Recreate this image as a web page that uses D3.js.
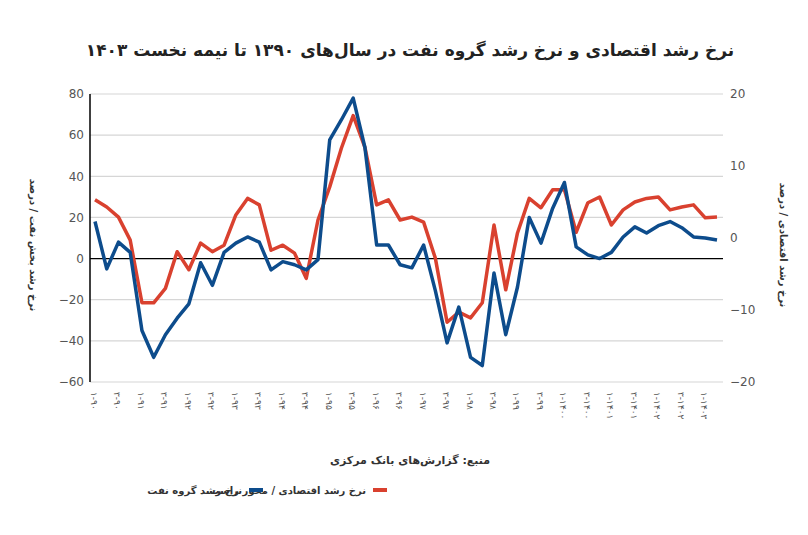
<!DOCTYPE html>
<html>
<head>
<meta charset="utf-8">
<script src="https://cdn.jsdelivr.net/npm/d3@7"></script>
<style>
body { margin: 0; background: #fff; }
text { font-family: "DejaVu Sans", sans-serif; }
</style>
</head>
<body>
<script>
// quarterly series, 1390 Q1 .. 1403 Q2
const oilGrowth = [18, -5, 8, 3, -35, -48, -37, -29, -22, -2, -13, 3, 7.5, 10.5, 8, -5.5, -1.5, -3, -5.5, -0.5,
  57.7, 67.5, 78, 54, 6.6, 6.6, -3, -4.5, 6.6, -15.6, -41, -23.6, -48, -52, -7, -37, -13.8, 20, 7.5, 24.5,
  37, 5.7, 1.8, 0, 3, 10.5, 15.4, 12.4, 16, 18, 15, 10.5, 10, 9];
const gdpGrowth = [5.3, 4.3, 2.9, -0.3, -9, -9, -7, -1.9, -4.4, -0.7, -1.9, -1, 3.2, 5.5, 4.6, -1.7, -1, -2.1, -5.6, 2.5,
  7.1, 12.5, 17, 12.6, 4.6, 5.3, 2.5, 2.9, 2.2, -2.8, -11.7, -10.3, -11.1, -9, 1.8, -7.2, 0.7, 5.5, 4.2, 6.7,
  6.7, 0.8, 4.9, 5.7, 1.8, 3.9, 5, 5.5, 5.7, 3.9, 4.3, 4.6, 2.8, 2.9];
const leftTicks = [80, 60, 40, 20, 0, -20, -40, -60];
const rightTicks = [20, 10, 0, -10, -20];

const fa = s => String(s).replace(/\d/g, d => "۰۱۲۳۴۵۶۷۸۹"[d]);
const quarters = oilGrowth.map((d, i) => {
  const y = 1390 + Math.floor(i / 4), q = i % 4 + 1;
  return fa(q) + "-" + fa(y < 1400 ? y - 1300 : y);
});

const width = 808, height = 535;
const x0 = 95, x1 = 717, plotTop = 94, plotBottom = 382;

const svg = d3.select("body").append("svg").attr("width", width).attr("height", height);

const x = d3.scaleLinear().domain([0, oilGrowth.length - 1]).range([x0, x1]);
const yL = d3.scaleLinear().domain([-60, 80]).range([plotBottom, plotTop]);
const yR = d3.scaleLinear().domain([-20, 20]).range([plotBottom, plotTop]);

// gridlines
svg.append("g").selectAll("line").data(leftTicks).enter().append("line")
  .attr("x1", 90).attr("x2", 723)
  .attr("y1", d => yL(d)).attr("y2", d => yL(d))
  .attr("stroke", d => d === 0 ? "#000" : "#d6d6d6")
  .attr("stroke-width", d => d === 0 ? 1.3 : 1.2);

svg.append("line").attr("x1", 90).attr("x2", 90).attr("y1", plotTop).attr("y2", plotBottom)
  .attr("stroke", "#000").attr("stroke-width", 1.5);

// axes
const axL = svg.append("g").attr("transform", "translate(84,0)")
  .call(d3.axisLeft(yL).tickValues(leftTicks).tickSize(0).tickPadding(0));
const axR = svg.append("g").attr("transform", "translate(730,0)")
  .call(d3.axisRight(yR).tickValues(rightTicks).tickSize(0).tickPadding(0));
[axL, axR].forEach(a => {
  a.select(".domain").remove();
  a.selectAll("text").attr("fill", "#555").attr("font-size", 12).attr("font-family", "Roboto, sans-serif");
});

// x labels
svg.append("g").selectAll("text").data(quarters.filter((d, i) => i % 2 === 0)).enter().append("text")
  .attr("transform", (d, i) => `translate(${x(i * 2) - 4},392) rotate(90)`)
  .attr("font-size", 9).attr("fill", "#555").attr("text-anchor", "start")
  .style("direction", "ltr")
  .text(d => d);

// lines
const lineL = d3.line().x((d, i) => x(i)).y(d => yL(d));
const lineR = d3.line().x((d, i) => x(i)).y(d => yR(d));
svg.append("path").datum(gdpGrowth).attr("d", lineR).attr("fill", "none")
  .attr("stroke", "#d9412f").attr("stroke-width", 3.5).attr("stroke-linejoin", "round");
svg.append("path").datum(oilGrowth).attr("d", lineL).attr("fill", "none")
  .attr("stroke", "#0d4c8c").attr("stroke-width", 3.5).attr("stroke-linejoin", "round");

// titles
svg.append("text").attr("x", 410).attr("y", 56).attr("text-anchor", "middle")
  .attr("font-size", 17).attr("font-weight", "bold").attr("fill", "#222").attr("direction", "rtl")
  .text("نرخ رشد اقتصادی و نرخ رشد گروه نفت در سال‌های ۱۳۹۰ تا نیمه نخست ۱۴۰۳");
svg.append("text").attr("transform", "translate(30,245) rotate(90)").attr("text-anchor", "middle")
  .attr("font-size", 10).attr("font-weight", "bold").attr("fill", "#333").attr("direction", "rtl")
  .text("نرخ رشد بخش نفت / درصد");
svg.append("text").attr("transform", "translate(780,245) rotate(90)").attr("text-anchor", "middle")
  .attr("font-size", 10).attr("font-weight", "bold").attr("fill", "#333").attr("direction", "rtl")
  .text("نرخ رشد اقتصادی / درصد");
svg.append("text").attr("x", 410).attr("y", 464).attr("text-anchor", "middle")
  .attr("font-size", 11).attr("font-weight", "bold").attr("fill", "#333").attr("direction", "rtl")
  .text("منبع: گزارش‌های بانک مرکزی");

// legend
const legend = [
  { label: "نرخ رشد اقتصادی / محور راست", color: "#d9412f", sx: 380 },
  { label: "نرخ رشد گروه نفت", color: "#0d4c8c", sx: 256 }
];
const lg = svg.append("g").selectAll("g").data(legend).enter().append("g");
lg.append("rect").attr("x", d => d.sx - 7).attr("y", 488).attr("width", 14).attr("height", 4).attr("fill", d => d.color);
lg.append("text").attr("x", d => d.sx - 14).attr("y", 494).attr("text-anchor", "start")
  .attr("font-size", 10).attr("font-weight", "bold").attr("fill", "#333").attr("direction", "rtl")
  .text(d => d.label);
</script>
</body>
</html>
